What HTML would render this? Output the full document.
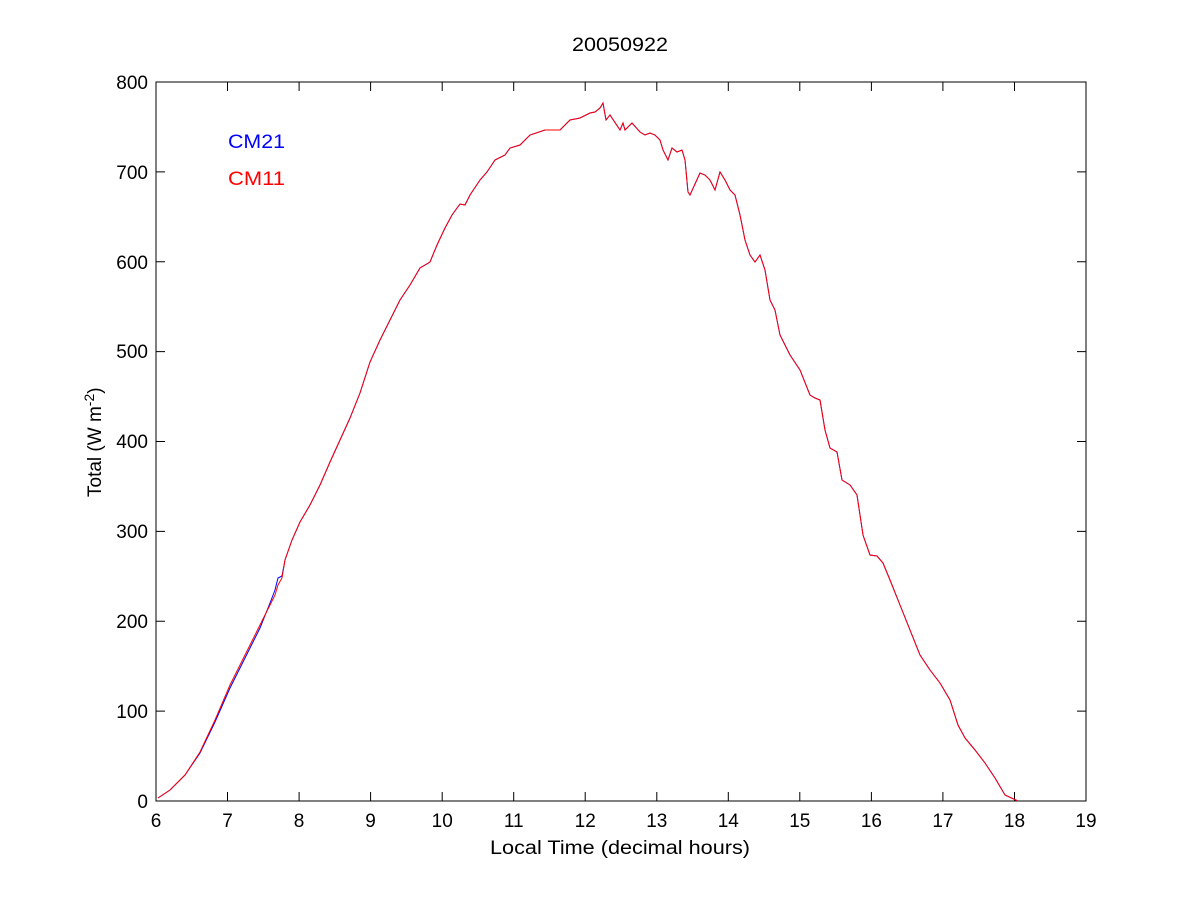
<!DOCTYPE html>
<html><head><style>body{margin:0;background:#fff}svg{display:block}text{font-family:"Liberation Sans",Arial,sans-serif;font-size:19px}</style></head><body>
<svg width="1200" height="900" xmlns="http://www.w3.org/2000/svg">
<rect width="1200" height="900" fill="#fff"/>
<rect x="156" y="82" width="930" height="719" fill="none" stroke="#000" stroke-width="1"/>
<g stroke="#000" stroke-width="1">
<path d="M156 801v-9M227.5 801v-9M299.1 801v-9M370.6 801v-9M442.2 801v-9M513.7 801v-9M585.2 801v-9M656.8 801v-9M728.3 801v-9M799.8 801v-9M871.4 801v-9M942.9 801v-9M1014.5 801v-9M1086 801v-9"/>
<path d="M156 82v9M227.5 82v9M299.1 82v9M370.6 82v9M442.2 82v9M513.7 82v9M585.2 82v9M656.8 82v9M728.3 82v9M799.8 82v9M871.4 82v9M942.9 82v9M1014.5 82v9"/>
<path d="M156 801h9M156 711.1h9M156 621.3h9M156 531.4h9M156 441.5h9M156 351.6h9M156 261.8h9M156 171.9h9M156 82h9"/>
<path d="M1086 711.1h-9M1086 621.3h-9M1086 531.4h-9M1086 441.5h-9M1086 351.6h-9M1086 261.8h-9M1086 171.9h-9"/>
</g>
<g text-anchor="middle">
<text x="156" y="827">6</text><text x="227.5" y="827">7</text><text x="299.1" y="827">8</text><text x="370.6" y="827">9</text><text x="442.2" y="827">10</text><text x="513.7" y="827">11</text><text x="585.2" y="827">12</text><text x="656.8" y="827">13</text><text x="728.3" y="827">14</text><text x="799.8" y="827">15</text><text x="871.4" y="827">16</text><text x="942.9" y="827">17</text><text x="1014.5" y="827">18</text><text x="1086" y="827">19</text>
</g>
<text x="490" y="854" textLength="260" lengthAdjust="spacingAndGlyphs">Local Time (decimal hours)</text>
<text x="572" y="51" textLength="96" lengthAdjust="spacingAndGlyphs">20050922</text>
<g text-anchor="end">
<text x="148" y="808">0</text><text x="148" y="718">100</text><text x="148" y="628">200</text><text x="148" y="538">300</text><text x="148" y="448">400</text><text x="148" y="358">500</text><text x="148" y="269">600</text><text x="148" y="179">700</text><text x="148" y="89">800</text>
</g>
<text transform="translate(101,497) rotate(-90)">Total (W m<tspan dy="-7" font-size="14">-2</tspan><tspan dy="7">)</tspan></text>
<text x="228" y="148" fill="#0000ff" textLength="57" lengthAdjust="spacingAndGlyphs">CM21</text>
<text x="228" y="185" fill="#ff0000" textLength="57" lengthAdjust="spacingAndGlyphs">CM11</text>
<polyline fill="none" stroke="#0000ff" stroke-width="1" points="158,798 170,790 185,775 200,753 215,722 230,688 245,658 260,628 270,603 275,590 278,578 282,576 285,560 292,540 300,522 310,505 320,485 330,462 340,440 350,418 360,393 370,362 380,340 390,320 400,300 410,285 420,268 430,262 437,245 445,228 452,215 460,204 465,205 470,195 480,180 487,172 495,160 505,155 510,148 520,145 530,135 545,130 560,130 570,120 580,118 590,113 595,112 600,108 603,103 606,120 610,115 620,130 623,123 625,130 632,123 640,132 645,135 650,133 655,135 660,140 663,150 668,160 672,148 677,152 682,150 685,160 688,192 690,195 700,173 705,175 710,180 715,190 720,172 725,180 730,190 735,195 740,215 745,240 750,255 755,262 760,255 765,270 770,300 775,310 780,335 790,355 800,370 810,395 815,398 820,400 825,430 830,448 837,452 842,480 850,485 857,495 863,535 870,555 877,556 883,563 890,580 900,605 910,630 920,655 930,670 940,683 950,700 958,725 965,738 975,750 985,763 995,778 1005,795 1018,801"/>
<polyline fill="none" stroke="#ff0000" stroke-width="1" points="158,798 170,790 185,775 200,752 215,720 230,685 245,655 260,625 270,605 275,595 278,585 282,578 285,560 292,540 300,522 310,505 320,485 330,462 340,440 350,418 360,393 370,362 380,340 390,320 400,300 410,285 420,268 430,262 437,245 445,228 452,215 460,204 465,205 470,195 480,180 487,172 495,160 505,155 510,148 520,145 530,135 545,130 560,130 570,120 580,118 590,113 595,112 600,108 603,103 606,120 610,115 620,130 623,123 625,130 632,123 640,132 645,135 650,133 655,135 660,140 663,150 668,160 672,148 677,152 682,150 685,160 688,192 690,195 700,173 705,175 710,180 715,190 720,172 725,180 730,190 735,195 740,215 745,240 750,255 755,262 760,255 765,270 770,300 775,310 780,335 790,355 800,370 810,395 815,398 820,400 825,430 830,448 837,452 842,480 850,485 857,495 863,535 870,555 877,556 883,563 890,580 900,605 910,630 920,655 930,670 940,683 950,700 958,725 965,738 975,750 985,763 995,778 1005,795 1018,801"/>
</svg>
</body></html>
